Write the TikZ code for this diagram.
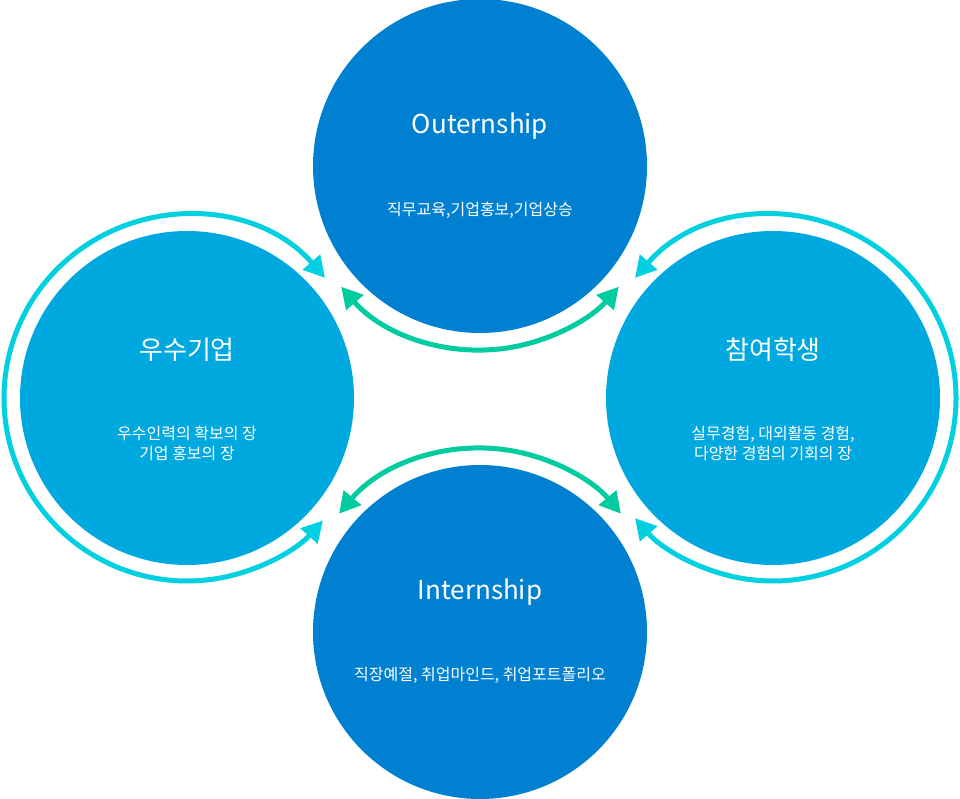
\documentclass[tikz,border=0pt]{standalone}
\usepackage{fontspec}
\setmainfont{Noto Sans CJK KR}
\usetikzlibrary{arrows.meta}
\definecolor{darkblue}{RGB}{0,128,208}
\definecolor{lightblue}{RGB}{0,168,224}
\definecolor{ringcyan}{RGB}{0,208,224}
\definecolor{ringgreen}{RGB}{0,204,160}
\tikzset{
  bigcircle/.style={circle, minimum size=334pt, inner sep=0pt, draw=none},
  ttl/.style={text=white, font=\fontsize{26}{30}\selectfont, anchor=center, inner sep=0pt},
  sub/.style={text=white, font=\fontsize{16}{20}\selectfont, align=center, anchor=center, inner sep=0pt},
  cyanarc/.style={draw=ringcyan, line width=5pt, {Triangle[length=21pt,width=22pt]}-{Triangle[length=21pt,width=22pt]}},
  greenarc/.style={draw=ringgreen, line width=5pt, {Triangle[length=21pt,width=22pt]}-{Triangle[length=21pt,width=22pt]}},
}
\begin{document}
\begin{tikzpicture}[x=1pt,y=1pt]
\useasboundingbox (0,0) rectangle (960,798);
\node[bigcircle, fill=darkblue] (top) at (480,632) {};
\node[bigcircle, fill=lightblue] (left) at (187,400) {};
\node[bigcircle, fill=lightblue] (right) at (773,400) {};
\node[bigcircle, fill=darkblue] (bottom) at (480,166) {};
% rings
\draw[cyanarc] ([shift={(41:183)}]left.center) arc[start angle=41, end angle=318, radius=183];
\draw[cyanarc] ([shift={(139:183)}]right.center) arc[start angle=139, end angle=-139, radius=183];
\draw[greenarc] ([shift={(221:184)}]top.center) arc[start angle=221, end angle=319, radius=184];
\draw[greenarc] ([shift={(140:184)}]bottom.center) arc[start angle=140, end angle=40, radius=184];
% texts
\node[ttl] (ttop) at (480,672) {Outernship};
\node[sub] (stop) at (480,588) {직무교육,기업홍보,기업상승};
\node[ttl] (tleft) at (187,448) {우수기업};
\node[sub] (sleft) at (187,355) {우수인력의 확보의 장\\기업 홍보의 장};
\node[ttl] (tright) at (773,448) {참여학생};
\node[sub] (sright) at (773,355) {실무경험, 대외활동 경험,\\다양한 경험의 기회의 장};
\node[ttl] (tbottom) at (480,206) {Internship};
\node[sub] (sbottom) at (480,123) {직장예절, 취업마인드, 취업포트폴리오};
\end{tikzpicture}
\end{document}
